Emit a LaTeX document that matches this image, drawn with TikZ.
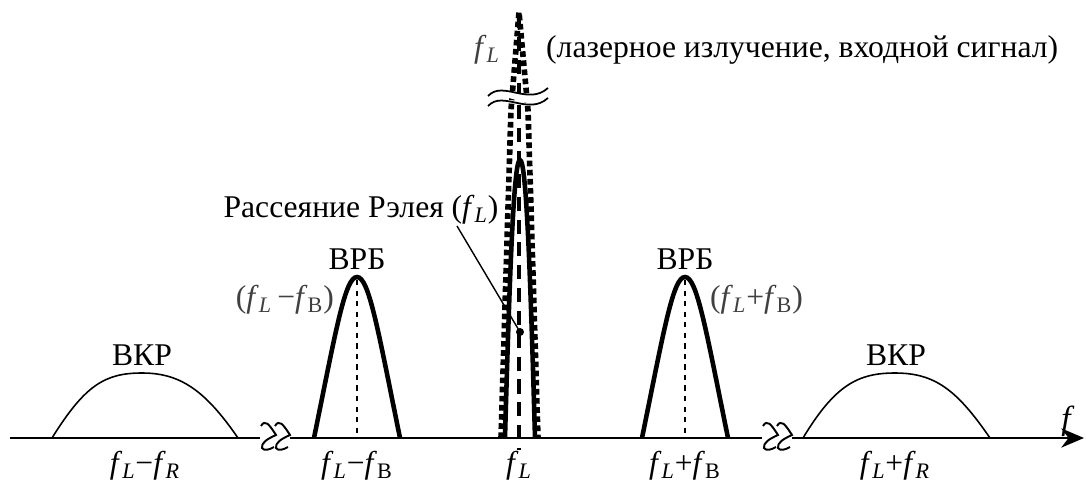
\documentclass[tikz,border=0pt]{standalone}
\usepackage{fontspec}
\setmainfont{Liberation Serif}
\usepackage{tikz}
\usepackage{xcolor}
\usetikzlibrary{arrows.meta}
\newcommand{\fL}{\textit{f}\textsubscript{\textit{L}}}
\newcommand{\fB}{\textit{f}\textsubscript{В}}
\newcommand{\fR}{\textit{f}\textsubscript{\textit{R}}}

\begin{document}
\begin{tikzpicture}[x=0.02cm, y=-0.02cm, every node/.style={font=\fontsize{18}{21}\selectfont}]
      \useasboundingbox (0,0) rectangle (1086,484);
      % axis with two breaks
      \coordinate (A0) at (10,438);
      \coordinate (A1) at (260,438);
      \coordinate (A2) at (290,438);
      \coordinate (A3) at (762,438);
      \coordinate (A4) at (792,438);
      \coordinate (A5) at (1084,438);
      \draw[line width=0.8pt] (A0) -- (A1);
      \draw[line width=0.8pt] (A2) -- (A3);
      \draw[line width=0.8pt, -{Stealth[length=13pt, width=11pt]}] (A4) -- (A5);
      \node[font=\fontsize{19}{20}\selectfont\itshape] (f) at (1066,421) {f};
      % break marks
      \foreach \bx in {261,763} {
        \foreach \dx in {0,14} {
          \draw[line width=1.1pt] (\bx+\dx,426) .. controls (\bx+\dx+4,419) and (\bx+\dx+8,424) .. (\bx+\dx+15,435)
            .. controls (\bx+\dx+6,439) and (\bx+\dx,443) .. (\bx+\dx+1,448)
            .. controls (\bx+\dx+3,451) and (\bx+\dx+8,450) .. (\bx+\dx+13,447);
        }
      }
      % SRS (left and right)
      \draw[line width=0.9pt] (52,438) .. controls (85,385) and (105,373) .. (142,373)
        .. controls (180,373) and (205,390) .. (238,438);
      \draw[line width=0.9pt] (803,438) .. controls (835,385) and (858,373) .. (895,373)
        .. controls (935,373) and (957,390) .. (990,438);
      \node (skrL) at (142,355) {ВКР};
      \node (skrR) at (896,355) {ВКР};
      % SBS (left and right)
      \draw[line width=2.6pt] (314,438) .. controls (336,330) and (345,277) .. (357,277)
        .. controls (369,277) and (378,330) .. (400,438);
      \draw[line width=2.6pt] (642,438) .. controls (664,330) and (673,277) .. (685,277)
        .. controls (697,277) and (706,330) .. (728,438);
      \draw[dashed, line width=0.7pt] (357,280) -- (357,438);
      \draw[dashed, line width=0.7pt] (685,280) -- (685,438);
      \node (vrbL) at (357,259) {ВРБ};
      \node (vrbR) at (685,259) {ВРБ};
      \node[anchor=east, text=black!75] (vrbLf) at (340,300) {(\fL\,−\fB)};
      \node[anchor=west, text=black!75] (vrbRf) at (704,300) {(\fL+\fB)};
      % laser line and Rayleigh peak
      \draw[dotted, line width=3.2pt] (501,438) -- (511,110) -- (519,12) -- (528,110) -- (538,438);
      \draw[line width=2.6pt] (505,438) .. controls (510,260) and (514,160) .. (520,160)
        .. controls (526,160) and (530,260) .. (535,438);
      \draw[dashed, line width=2pt, dash pattern=on 8pt off 5pt] (519,14) -- (519,450);
      \draw[white, line width=4pt] (490,99) .. controls (505,82) and (530,112) .. (548,94);
      \draw[line width=1pt] (488,96) .. controls (503,80) and (528,106) .. (548,88);
      \draw[line width=1pt] (488,106) .. controls (503,90) and (528,116) .. (548,98);
      \node[text=black!75] (fLtop) at (487,50) {\fL};
      \node[anchor=west] (laser) at (540,50) {(лазерное излучение, входной сигнал)};
      \node (rayl) at (361,210) {Рассеяние Рэлея (\fL)};
      \coordinate (rdot) at (520,332);
      \draw[line width=0.8pt] (457,226) -- (rdot);
      \fill (rdot) circle (4);
      % tick labels
      \node (t1) at (145,466) {\fL−\fR};
      \node (t2) at (357,466) {\fL−\fB};
      \node (t3) at (519,466) {\fL};
      \node (t4) at (685,466) {\fL+\fB};
      \node (t5) at (895,466) {\fL+\fR};
    \end{tikzpicture}
\end{document}
